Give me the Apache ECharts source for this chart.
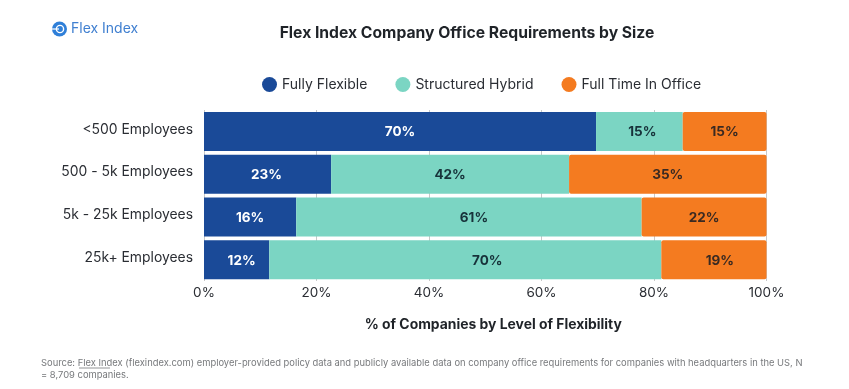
<!DOCTYPE html>
<html>
<head>
<meta charset="utf-8">
<title>Flex Index Company Office Requirements by Size</title>
<style>
  html, body { margin: 0; padding: 0; background: #fff; }
  #main { width: 849px; height: 389px; }
</style>
</head>
<body>
<div id="main"></div>
<script src="https://cdn.jsdelivr.net/npm/echarts@6/dist/echarts.min.js"></script>
<script>
const categories = ['<500 Employees', '500 - 5k Employees', '5k - 25k Employees', '25k+ Employees'];
const fullyFlexible = [69.7, 22.6, 16.4, 11.6];
const structuredHybrid = [15.4, 42.3, 61.4, 69.7];
const fullTimeOffice = [14.9, 35.1, 22.2, 18.7];

// labels in the original are not always centred on their segment
const hybridNudge = [3, 0, 5, 22];
const officeNudge = [0, 0, 0, 6];
const flexibleNudge = [0, -1, 0, 5];

const font = 'Inter, "Noto Sans", sans-serif';

const makeSeries = (name, values, color, labelColor, nudge, radius) => ({
  name,
  type: 'bar',
  stack: 'total',
  barWidth: 39,
  itemStyle: { color, borderRadius: radius },
  label: {
    show: true,
    position: 'inside',
    color: labelColor,
    fontFamily: font,
    fontSize: 13.5,
    fontWeight: 700,
    formatter: (p) => Math.round(p.value) + '%',
  },
  data: values.map((v, i) => ({ value: v, label: { offset: [nudge[i], 1] } })),
});

const myChart = echarts.init(document.getElementById('main'));
myChart.setOption({
  animation: false,
  backgroundColor: '#fff',
  title: {
    text: 'Flex Index Company Office Requirements by Size',
    left: 462,
    top: 20,
    textAlign: 'center',
    textStyle: { fontFamily: font, fontSize: 15.7, fontWeight: 700, color: '#1f2328' },
  },
  legend: {
    left: 257,
    top: 72,
    icon: 'circle',
    itemWidth: 15,
    itemHeight: 15,
    itemGap: 28,
    textStyle: { fontFamily: font, fontSize: 14, color: '#2a2d33' },
    data: ['Fully Flexible', 'Structured Hybrid', 'Full Time In Office'],
  },
  grid: { left: 204, right: 82.5, top: 110, bottom: 108 },
  xAxis: {
    type: 'value',
    min: 0,
    max: 100,
    interval: 20,
    axisLine: { show: false },
    axisTick: { show: false },
    splitLine: { lineStyle: { color: '#c8c8c8', width: 1 } },
    axisLabel: {
      margin: 5,
      formatter: '{value}%',
      fontFamily: font,
      fontSize: 13.5,
      color: '#2a2d33',
    },
    name: '% of Companies by Level of Flexibility',
    nameLocation: 'middle',
    nameGap: 37,
    nameTextStyle: { fontFamily: font, fontSize: 13.9, fontWeight: 700, color: '#1f2328', padding: [0, 0, 0, 16] },
  },
  yAxis: {
    type: 'category',
    inverse: true,
    data: categories,
    axisLine: { show: false },
    axisTick: { show: false },
    axisLabel: { margin: 11, fontFamily: font, fontSize: 13.9, color: '#2a2d33', verticalAlign: 'bottom', lineHeight: 4 },
  },
  series: [
    makeSeries('Fully Flexible', fullyFlexible, '#1a4a98', '#ffffff', flexibleNudge, 0),
    makeSeries('Structured Hybrid', structuredHybrid, '#7bd5c3', '#17323a', hybridNudge, 0),
    makeSeries('Full Time In Office', fullTimeOffice, '#f47b20', '#3a2a22', officeNudge, [2, 2, 2, 2]),
  ],
  graphic: [
    // logo
    { type: 'circle', shape: { cx: 59.5, cy: 29, r: 7.5 }, style: { fill: '#2f7fd8' } },
    { type: 'circle', shape: { cx: 60, cy: 29, r: 3.6 }, style: { fill: 'none', stroke: '#fff', lineWidth: 1.4 } },
    { type: 'line', shape: { x1: 52, y1: 29, x2: 59, y2: 29 }, style: { stroke: '#fff', lineWidth: 1.2 } },
    {
      type: 'text',
      x: 71,
      y: 22,
      style: { text: 'Flex Index', fontFamily: font, fontSize: 14, fill: '#3f7fd0' },
    },
    // source note
    {
      type: 'text',
      x: 41,
      y: 357,
      style: {
        text: 'Source: Flex Index (flexindex.com) employer-provided policy data and publicly available data on company office requirements for companies with headquarters in the US, N\n= 8,709 companies.',
        fontFamily: font,
        fontSize: 9.4,
        lineHeight: 12,
        fill: '#77797c',
      },
    },
    { type: 'line', shape: { x1: 79, y1: 368, x2: 110, y2: 368 }, style: { stroke: '#77797c', lineWidth: 0.8 } },
  ],
});
</script>
</body>
</html>
